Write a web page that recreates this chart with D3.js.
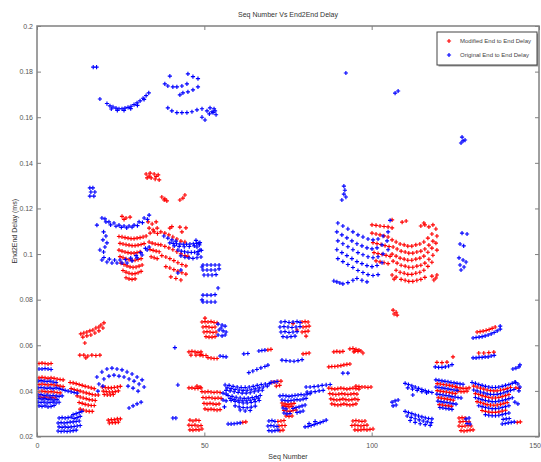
<!DOCTYPE html>
<html>
<head>
<meta charset="utf-8">
<script src="https://cdn.jsdelivr.net/npm/d3@7"></script>
<style>
  body { margin: 0; background: #fff; }
  svg { display: block; font-family: "Liberation Sans", Arial, sans-serif; }
</style>
</head>
<body>
<svg id="chart" width="541" height="462"></svg>
<script>
// Labels and ticks
const titleText = "Seq Number Vs End2End Delay";
const xLabel = "Seq Number";
const yLabel = "End2End Delay (ms)";
const seriesNames = ["Modified End to End Delay", "Original End to End Delay"];
const seriesColors = ["#ff0000", "#0000ff"];
const xTicks = [0, 50, 100, 150];
const yTicks = [0.02, 0.04, 0.06, 0.08, 0.1, 0.12, 0.14, 0.16, 0.18, 0.2];

// Modified end-to-end delay samples: [seq, delay]
const modifiedUpper = [
  [32.6,0.1351],[33.8,0.1355],[35,0.1351],[36.2,0.1347],[32.9,0.1334],[34.1,0.1334],[35.3,0.1329],[36.5,0.1325],[33.5,0.1342],[35.6,0.134],
  [37.3,0.125],[38.2,0.1242],[38.8,0.1233],[42.7,0.1237],[44.2,0.1259],[38,0.1237],[43.6,0.1245],
  [25.4,0.1165],[26.6,0.1158],[27.8,0.1162],[26,0.1152],
  [33.2,0.1141],[34.4,0.1132],[35.6,0.1141],[33.5,0.1114],[34.7,0.1106],[35.9,0.1114],[33.8,0.1092],[35,0.1097],[36,0.109],
  [24.5,0.1077],[25.4,0.1075],[26.3,0.1072],[27.2,0.107],[28.1,0.1068],[29,0.1068],[29.9,0.107],[30.8,0.1072],[31.7,0.1075],[32.6,0.1079],
  [24.8,0.1047],[25.7,0.1044],[26.6,0.1041],[27.5,0.1039],[28.4,0.1037],[29.3,0.1037],[30.2,0.1039],[31.1,0.1042],[32,0.1046],
  [24.5,0.1017],[25.4,0.1013],[26.3,0.1009],[27.2,0.1006],[28.1,0.1004],[29,0.1004],[29.9,0.1006],[30.8,0.101],
  [24.8,0.0989],[25.7,0.0984],[26.6,0.0979],[27.5,0.0975],[28.4,0.0973],[29.3,0.0973],[30.2,0.0976],[31.1,0.098],
  [25.1,0.096],[26,0.0954],[26.9,0.0948],[27.8,0.0944],[28.7,0.0942],[29.6,0.0943],[30.5,0.0947],[31.4,0.0952],
  [25.7,0.0928],[26.6,0.0921],[27.5,0.0916],[28.4,0.0913],[29.3,0.0914],[30.2,0.0918],[31.1,0.0924],
  [26.6,0.0896],[27.5,0.0891],[28.4,0.0889],[29.3,0.0891],
  [33.5,0.1053],[34.4,0.1048],[35.3,0.1044],[36.2,0.1042],[33.8,0.102],[34.7,0.1016],[35.6,0.1013],[36.5,0.101],[34.1,0.0988],[35,0.0984],[35.9,0.098],
  [37,0.1097],[38.2,0.1092],[39.4,0.1084],[40.6,0.1075],[41.8,0.1066],[43,0.1057],[44.2,0.1053],
  [37,0.104],[38.2,0.1034],[39.4,0.1027],[40.6,0.1019],[41.8,0.101],[43,0.1001],[44.2,0.0993],[45.1,0.099],
  [37.3,0.0993],[38.5,0.0987],[39.7,0.098],[40.9,0.0971],[42.1,0.0962],[43.3,0.0954],[44.5,0.0948],
  [38.5,0.0945],[39.7,0.0939],[40.9,0.0932],[42.1,0.0925],[43.3,0.0918],[44.5,0.0912],
  [40,0.09],[41.5,0.0893],[43,0.0886],
  [39.7,0.1114],[42.7,0.1118],[40.3,0.112],[44.5,0.1115],[43.3,0.1097]
];

const modifiedMiddle = [
  [100.1,0.1128],[101.3,0.1126],[102.5,0.1123],[103.7,0.1121],[104.9,0.1119],[106.1,0.1115],
  [100.1,0.1092],[101.3,0.1088],[102.5,0.1084],[103.7,0.108],[104.9,0.1075],
  [100.4,0.105],[101.6,0.1046],[102.8,0.1042],[104,0.1037],[105.2,0.1033],
  [100.7,0.1006],[101.9,0.1002],[103.1,0.0998],[104.3,0.0994],[105.5,0.099],
  [101.3,0.097],[102.5,0.0966],[103.7,0.0962],[104.9,0.0958],
  [106.1,0.1062],[107.3,0.1053],[108.5,0.1044],[109.7,0.104],[110.8,0.1035],[112,0.1035],[113.2,0.104],[114.4,0.1044],[115.6,0.1053],[116.8,0.107],[118,0.1088],[119.2,0.111],
  [106.4,0.1031],[107.6,0.1022],[108.8,0.1013],[110,0.1009],[111.1,0.1004],[112.3,0.1004],[113.5,0.1009],[114.7,0.1013],[115.9,0.1022],[117.1,0.1039],[118.3,0.1057],[119.5,0.1079],
  [106.1,0.1],[107.3,0.0991],[108.5,0.0982],[109.7,0.0978],[110.8,0.0973],[112,0.0973],[113.2,0.0978],[114.4,0.0982],[115.6,0.0991],[116.8,0.1008],[118,0.1026],[119.2,0.1048],
  [106.4,0.0969],[107.6,0.096],[108.8,0.0951],[110,0.0947],[111.1,0.0942],[112.3,0.0942],[113.5,0.0947],[114.7,0.0951],[115.9,0.096],[117.1,0.0977],[118.3,0.0995],[119.5,0.1017],
  [107.3,0.0929],[108.5,0.092],[109.7,0.0916],[110.8,0.0911],[112,0.0911],[113.2,0.0916],[114.4,0.092],[115.6,0.0929],[116.8,0.0946],[118,0.0964],
  [108.8,0.0889],[110,0.0885],[111.1,0.088],[112.3,0.088],[113.5,0.0885],[114.7,0.0889],[115.9,0.0898],
  [114.7,0.1123],[115.9,0.1128],[117.1,0.1119],[118.3,0.1128],
  [109.1,0.114],[110.3,0.1145],[115.6,0.1136],[106.1,0.115],
  [106.1,0.0908],[107.3,0.0899],[106.7,0.089],[118,0.0903],[119.2,0.0895],[118.6,0.0886],[119.5,0.0908],
  [106.4,0.0754],[107.3,0.0745],[106.7,0.0737],[107.6,0.0732],
  [50.2,0.0719]
];

const modifiedLower = [
  [0.6,0.052],[1.5,0.0522],[2.4,0.052],[3.3,0.0518],[4.2,0.052],
  [0.6,0.0457],[1.5,0.0459],[2.4,0.0457],[3.3,0.0455],[4.2,0.0457],[5.1,0.0455],[6,0.0452],[6.9,0.045],[7.8,0.0448],
  [0.6,0.0428],[1.5,0.043],[2.4,0.0428],[3.3,0.0426],[4.2,0.0428],[5.1,0.0426],[6,0.0424],[6.9,0.0421],[7.8,0.0419],
  [0.6,0.0397],[1.5,0.0399],[2.4,0.0397],[3.3,0.0395],[4.2,0.0397],[5.1,0.0395],[6,0.0393],[6.9,0.0391],
  [0.9,0.0373],[1.8,0.0371],[2.7,0.0373],[3.6,0.0369],[4.5,0.0371],[5.4,0.0369],
  [13.1,0.065],[14,0.0654],[14.9,0.0658],[15.8,0.0663],[16.7,0.0667],[17.6,0.0676],[18.5,0.068],[19.1,0.0689],[20,0.0698],
  [13.7,0.0636],[14.9,0.0641],[16.1,0.0645],[17.3,0.0654],[18.5,0.0663],[19.7,0.0676],
  [14.3,0.061],
  [12.8,0.0557],[14,0.0557],[15.2,0.0553],[16.4,0.0557],[17.6,0.0555],[18.8,0.0557],[14.6,0.0545],
  [9.9,0.0437],[10.8,0.0435],[11.7,0.0432],[12.6,0.0428],[13.5,0.0424],[14.4,0.042],[15.3,0.0417],[16.2,0.0413],[17.1,0.041],
  [10.2,0.041],[11.1,0.0406],[12,0.0402],[12.9,0.0399],[13.8,0.0395],[14.7,0.0391],[15.6,0.0388],[16.5,0.0384],[17.4,0.0382],[18.3,0.0382],
  [12,0.0378],[12.9,0.0373],[13.8,0.0369],[14.7,0.0366],[15.6,0.0362],[16.5,0.036],[17.4,0.0358],
  [12.6,0.0349],[13.5,0.0345],[14.4,0.0341],[15.3,0.0338],[16.2,0.0336],[17.1,0.0336],
  [12.9,0.032],[13.8,0.0316],[14.7,0.0312],[15.6,0.031],[16.5,0.031],
  [19.5,0.0417],[20.4,0.0415],[21.3,0.0413],[22.2,0.0413],[23.1,0.0415],[24,0.0417],[24.9,0.042],
  [19.8,0.0399],[20.7,0.0397],[21.6,0.0395],[22.5,0.0395],[23.4,0.0397],[24.3,0.04],
  [20.1,0.0384],[21,0.0382],[21.9,0.0382],[22.8,0.0384],
  [21.3,0.0272],[22.2,0.0274],[23.1,0.0274],[24,0.0277],[24.9,0.0277],[21.6,0.0259],[22.5,0.0261],[23.4,0.0261],[24.3,0.0263],
  [45.4,0.0571],[46.3,0.0573],[47.2,0.0571],[48.1,0.0569],[49,0.0571],[46,0.0557],[47.5,0.0557],[49,0.0559],
  [45.4,0.0413],[46.3,0.0413],[47.2,0.0411],[48.1,0.0411],[49,0.0413],[47.8,0.0421],[48.7,0.0417],
  [45.7,0.0272],[46.6,0.0268],[47.5,0.0272],[48.4,0.027],[45.4,0.025],[46.3,0.0248],[47.2,0.025],[48.1,0.0246],[49,0.0248],
  [45.7,0.0229],[46.6,0.0228],[47.5,0.023],[48.4,0.0229],[49.3,0.0233],
  [49.3,0.0702],[50.2,0.0704],[51.1,0.0702],[52,0.0704],[52.9,0.07],[53.8,0.0698],
  [49.6,0.068],[50.5,0.0682],[51.4,0.068],[52.3,0.0678],[53.2,0.068],
  [49.9,0.0658],[50.8,0.066],[51.7,0.0658],[52.6,0.0656],[53.5,0.0658],
  [50.5,0.0638],[51.4,0.0636],[52.3,0.0636],[53.2,0.0638],
  [48.7,0.0557],[49.6,0.0555],[50.5,0.0555],[51.1,0.0546],[52,0.0544],[52.9,0.0542],[53.8,0.0542],
  [49.3,0.0397],[50.2,0.0395],[51.1,0.0397],[52,0.0395],[52.9,0.0393],[53.8,0.0395],[54.7,0.0393],
  [49.6,0.0371],[50.5,0.0369],[51.4,0.0371],[52.3,0.0369],[53.2,0.0367],[54.1,0.0369],[55,0.0367],
  [49.9,0.0345],[50.8,0.0343],[51.7,0.0345],[52.6,0.0343],[53.5,0.0341],[54.4,0.0343],
  [50.2,0.0321],[51.1,0.0318],[52,0.032],[52.9,0.0318],[53.8,0.0316],[54.7,0.0318],
  [61.5,0.0262],[62.4,0.0264],
  [69,0.058],[69.9,0.0582],
  [70.2,0.0437],[71.1,0.0439],[72,0.0441],[72.9,0.0443],[71.5,0.0421],[72.5,0.0424],
  [72,0.0266],[72.9,0.0268],[73.8,0.027],[72.3,0.0246],[73.2,0.0248],[74.1,0.0248],[72.6,0.0226],[73.5,0.0228],
  [79.2,0.0702],[80.1,0.0704],[81,0.0702],[79.5,0.068],[80.4,0.0682],[81.3,0.0684],[79.2,0.0658],[80.1,0.066],[81,0.0662],[80.4,0.064],[76.5,0.0695],[77.7,0.0667],
  [79.5,0.0562],[80.4,0.0564],[81.3,0.0566],
  [73.2,0.0347],[74.1,0.0343],[75,0.0341],[75.9,0.0343],[76.8,0.0345],
  [73.5,0.0334],[74.4,0.0332],[75.3,0.033],[76.2,0.0332],
  [73.8,0.0314],[74.7,0.0312],[75.6,0.031],[76.5,0.0314],[77.4,0.0316],
  [74.4,0.029],[75.3,0.0288],[76.2,0.029],
  [88.7,0.0571],[89.6,0.0573],[90.5,0.0571],[91.4,0.0573],
  [93.5,0.0584],[94.4,0.0586],[95.3,0.0582],[96.2,0.0579],[94.7,0.0571],
  [87.2,0.0505],[88.1,0.0507],[89,0.0507],[89.9,0.0509],[90.8,0.0511],[91.7,0.0514],[92.6,0.0516],[93.5,0.0518],
  [87.2,0.0412],[88.1,0.041],[89,0.0408],[89.9,0.041],[90.8,0.0412],[91.7,0.041],[92.6,0.0408],[93.5,0.041],[94.4,0.0412],[95.3,0.041],[96.2,0.0408],
  [87.5,0.0388],[88.4,0.0386],[89.3,0.0384],[90.2,0.0386],[91.1,0.0388],[92,0.0386],[92.9,0.0384],[93.8,0.0386],[94.7,0.0388],[95.6,0.0386],
  [87.8,0.0365],[88.7,0.0362],[89.6,0.036],[90.5,0.0362],[91.4,0.0365],[92.3,0.0362],[93.2,0.036],[94.1,0.0362],[95,0.0365],[95.9,0.0362],
  [88.1,0.0343],[89,0.034],[89.9,0.0338],[90.8,0.034],[91.7,0.0343],[92.6,0.034],[93.5,0.0338],[94.4,0.034],[95.3,0.0343],
  [95,0.0575],[95.9,0.0573],[96.8,0.0575],[97.4,0.0566],
  [95.3,0.0421],[96.2,0.0419],[97.1,0.0417],[98,0.0417],[98.9,0.0415],[99.8,0.0417],
  [94.4,0.0268],[95.3,0.027],[96.2,0.0268],[97.1,0.0266],[98,0.0268],
  [94.1,0.0248],[95,0.025],[95.9,0.0248],[96.8,0.0246],[97.7,0.0248],[98.6,0.025],
  [95,0.0229],[95.9,0.0228],[96.8,0.0229],[97.7,0.0231],[98.6,0.0229],[99.5,0.0231],[100.4,0.0233],
  [119.6,0.0432],[120.5,0.043],[121.4,0.0428],[122.3,0.0426],[123.2,0.0424],[124.1,0.0421],[125,0.0419],
  [119.6,0.0401],[120.5,0.0399],[121.4,0.0397],[122.3,0.0395],[123.2,0.0393],[124.1,0.039],[125,0.0388],
  [119.9,0.037],[120.8,0.0368],[121.7,0.0366],[122.6,0.0364],[123.5,0.0362],[124.4,0.0359],
  [120.2,0.034],[121.1,0.0338],[122,0.0336],[122.9,0.0334],[123.8,0.0332],
  [125.5,0.0415],[126.4,0.0413],[127.3,0.0411],[128.2,0.0411],[129.1,0.0413],[125.8,0.0399],[126.7,0.0397],[127.6,0.0397],[128.5,0.0399],
  [119.5,0.0525],[121,0.0524],[122.5,0.0526],[124.3,0.0549],
  [126.1,0.0281],[127,0.0283],[127.9,0.0281],[126.4,0.0264],[127.3,0.0266],[128.2,0.0266],[129.1,0.0264],
  [126.1,0.0246],[127,0.0244],[127.9,0.0246],[128.8,0.0248],[129.7,0.0246],
  [126.7,0.0226],[127.6,0.0224],[128.5,0.0226],[129.4,0.0228],[130.3,0.0229],
  [130.5,0.0421],[131.5,0.0417],[132.5,0.0412],[133.5,0.0408],[134.5,0.0404],[135.5,0.0401],[136.5,0.04],[137.5,0.04],[138.5,0.0403],[139.5,0.0406],[140.5,0.041],[141.5,0.0415],
  [131,0.0388],[132,0.0384],[133,0.0379],[134,0.0375],[135,0.0371],[136,0.0369],[137,0.0369],[138,0.0371],[139,0.0375],[140,0.0379],[141,0.0384],
  [131.5,0.0353],[132.5,0.0349],[133.5,0.0344],[134.5,0.034],[135.5,0.0338],[136.5,0.0337],[137.5,0.0338],[138.5,0.0341],[139.5,0.0345],[140.5,0.0349],
  [133,0.0314],[134,0.031],[135,0.0307],[136,0.0306],[137,0.0306],[138,0.0308],[139,0.0311],[140,0.0315],
  [131.5,0.0658],[132.4,0.066],[133.3,0.0662],[134.2,0.0665],[135.1,0.0669],[136,0.0674],[136.9,0.068],
  [132,0.0566],[133.5,0.0566],[135,0.0568],[136.5,0.057],
  [143.5,0.0262],[144.4,0.0264],[143.1,0.0413],[144,0.0411]
];

// Original end-to-end delay samples: [seq, delay]
const originalHigh = [
  [16.8,0.182],[17.8,0.182],[18.8,0.168],
  [20.9,0.166],[21.8,0.165],[22.7,0.1645],[23.6,0.164],[24.5,0.1637],[25.4,0.1637],[26.3,0.164],[27.2,0.1643],[28.1,0.1648],[29,0.1655],[29.9,0.1663],[30.8,0.1672],[31.7,0.1683],[32.6,0.1695],[33.4,0.1707],
  [22.2,0.1636],[24,0.163],[26,0.163],[28,0.1638],[30,0.1652],[32,0.1678],
  [39.7,0.178],[45.1,0.179],[46.6,0.1778],[48.1,0.1769],
  [38.2,0.1746],[39.1,0.1737],[40.6,0.1733],[41.8,0.1733],[43.3,0.1737],[44.8,0.1746],
  [42.7,0.1698],[43.6,0.1707],[45.1,0.1711],[46.6,0.172],[48.1,0.1733],
  [39.1,0.1641],[40.3,0.1628],[41.8,0.162],[43.3,0.162],[44.8,0.162],[46.3,0.1624],[47.8,0.1632],[49.3,0.1637],[50.8,0.1628],[52.3,0.1624],[53.2,0.1628],
  [49.3,0.16],[50.2,0.1588],[51.7,0.1641],[52.6,0.162],[53.5,0.1611],[51.5,0.1615],[52.9,0.1637],
  [92.3,0.1794],[107,0.1706],[107.9,0.1715],
  [126.7,0.1487],[127.3,0.1496],[127.9,0.15],[127,0.1513]
];

const originalMid = [
  [15.8,0.129],[16.7,0.129],[16.1,0.1272],[17.3,0.1272],[15.8,0.1254],[17,0.1254],
  [91.7,0.1298],[92,0.128],[91.7,0.1263],[92.3,0.125],[91.1,0.1237],
  [17.9,0.1127],[19.4,0.1158],[20.3,0.1154],[21.5,0.1141],[23,0.1136],[24.5,0.1127],[26,0.1123],[27.5,0.1123],[29,0.1127],[30.5,0.1141],[32,0.1158],[33.5,0.1171],
  [20.6,0.1141],[22,0.1128],[23.6,0.1122],[25.2,0.1117],[26.8,0.1115],[28.4,0.1118],[30,0.1125],[31.5,0.1138],[33,0.1152],
  [19.9,0.1097],[20.6,0.1079],[19.7,0.1062],[20.9,0.1049],[20.3,0.1031],[19.9,0.1009],[18.8,0.1018],
  [19.4,0.0974],[20.9,0.0965],[22.4,0.0961],[23.9,0.0961],[25.4,0.0961],[26.9,0.0961],[28.4,0.097],[29.9,0.0983],[31.4,0.0996],[32.9,0.1018],[33.5,0.1031],
  [20,0.0985],[21.6,0.0978],[23.2,0.0974],[24.8,0.0974],[26.4,0.0976],[28,0.0982],[29.6,0.0993],[31,0.1006],[32.4,0.1025],
  [37.9,0.1079],[39.1,0.107],[40.3,0.1062],[41.5,0.1057],
  [39.7,0.1049],[40.7,0.1047],[41.7,0.1045],[42.7,0.1044],[43.7,0.1043],[44.7,0.1043],[45.7,0.1044],[46.7,0.1045],[47.7,0.1047],[48.7,0.105],
  [41,0.1036],[42.5,0.1034],[44,0.1032],[45.5,0.1033],[47,0.1036],[48.5,0.104],
  [42.1,0.1018],[43.1,0.1013],[44.1,0.101],[45.1,0.1008],[46.1,0.1007],[47.1,0.1008],[48.1,0.1011],[49.1,0.1016],
  [43,0.0992],[44.2,0.0986],[45.4,0.0983],[46.6,0.0981],[47.8,0.0984],
  [42.1,0.0917],[43,0.093],
  [47.5,0.106],[48.4,0.1049],[47.8,0.1031],[48.7,0.1018],[48.1,0.1],[49,0.0987],
  [49.3,0.0943],[49.3,0.0799],
  [49.6,0.0952],[50.8,0.0952],[52,0.0952],[53.2,0.0952],[54.4,0.0952],
  [49.6,0.093],[50.8,0.093],[52,0.093],[53.2,0.093],[54.4,0.0935],
  [49.9,0.0908],[51.1,0.0908],[52.3,0.0908],[53.5,0.091],
  [49.6,0.082],[50.8,0.082],[52,0.082],[53.2,0.0822],[49.6,0.079],[50.8,0.079],[52,0.079],[53.2,0.079],[54.1,0.0851],
  [89.9,0.1136],[91.4,0.1123],[92.9,0.111],[94.4,0.1097],[95.9,0.1084],[97.4,0.1075],[98.9,0.1066],[100.4,0.1062],[101.9,0.1066],[103.4,0.1079],[104.9,0.1097],
  [89.6,0.1097],[91.1,0.1084],[92.6,0.1071],[94.1,0.1058],[95.6,0.1045],[97.1,0.1036],[98.6,0.1027],[100.1,0.1023],[101.6,0.1027],[103.1,0.104],[104.6,0.1058],
  [89.9,0.1058],[91.4,0.1045],[92.9,0.1032],[94.4,0.1019],[95.9,0.1006],[97.4,0.0997],[98.9,0.0988],[100.4,0.0984],[101.9,0.0988],[103.4,0.1001],[104.9,0.1019],
  [89.6,0.1019],[91.1,0.1006],[92.6,0.0993],[94.1,0.098],[95.6,0.0967],[97.1,0.0958],[98.6,0.0949],[100.1,0.0945],[101.6,0.095],[103.1,0.0962],
  [89.9,0.098],[91.4,0.0967],[92.9,0.0954],[94.4,0.0941],[95.9,0.0928],[97.4,0.0919],[98.9,0.091],[100.4,0.0906],[101.9,0.091],
  [88.7,0.0882],[89.6,0.0878],[90.5,0.0873],[91.4,0.0869],[92.9,0.0875],[94.4,0.0885],[95.6,0.0893],[97.1,0.0885],[98.6,0.0878],
  [105.5,0.1148],[127,0.1092],[128.5,0.1088],[126.4,0.1044],[127.5,0.1036],
  [126.1,0.0983],[127.3,0.0974],[128.2,0.0965],[126.4,0.0952],[127.6,0.0943],[126.7,0.093]
];

const originalLow = [
  [0.6,0.0496],[1.5,0.0496],[2.4,0.0498],[3.3,0.0496],[4.2,0.0494],
  [0.3,0.0443],[1.2,0.0445],[2.1,0.0443],[3,0.0441],[3.9,0.0443],[4.8,0.0439],[5.7,0.0437],
  [0.3,0.0413],[1.2,0.0415],[2.1,0.0413],[3,0.0411],[3.9,0.0413],[4.8,0.041],[5.7,0.0413],[6.6,0.041],[7.5,0.0406],[8.4,0.0402],[9.3,0.0399],[10.2,0.0396],[11.1,0.0393],[12,0.039],
  [0.3,0.0382],[1.2,0.0384],[2.1,0.038],[3,0.0382],[3.9,0.0378],[4.8,0.038],[5.7,0.0378],[6.6,0.0376],[7.5,0.0378],
  [0.6,0.0367],[1.5,0.0364],[2.4,0.0366],[3.3,0.0362],[4.2,0.0364],[5.1,0.036],[6,0.0362],
  [0.3,0.0351],[1.2,0.0349],[2.1,0.0351],[3,0.0347],[3.9,0.0349],[4.8,0.0351],[5.7,0.0347],[6.6,0.035],
  [0.6,0.0334],[1.5,0.0332],[2.4,0.0334],[3.3,0.033],[4.2,0.0332],[5.1,0.0336],
  [6.6,0.0281],[7.5,0.0283],[8.4,0.0281],[9.3,0.0283],[10.2,0.0285],
  [6.3,0.0259],[7.2,0.0261],[8.1,0.0259],[9,0.0261],[9.9,0.0263],[10.8,0.0264],[11.7,0.0266],[12.6,0.0268],
  [6.6,0.0242],[7.5,0.024],[8.4,0.0242],[9.3,0.024],[10.2,0.0242],[11.1,0.0244],[12,0.0246],[12.9,0.0248],
  [6.3,0.0224],[7.2,0.0222],[8.1,0.0224],[9,0.0222],[9.9,0.0224],[10.8,0.0226],[11.7,0.0228],
  [10.8,0.0296],[11.7,0.03],[12.6,0.0305],[13.4,0.031],[11.1,0.0279],[12,0.0283],[12.9,0.0288],
  [17.9,0.0461],[19.4,0.0483],[20.9,0.0496],[22.4,0.05],[23.9,0.0496],[25.4,0.0492],[26.9,0.0483],[28.4,0.0474],[29.9,0.0461],[31.4,0.0448],
  [18.5,0.043],[20,0.0452],[21.5,0.0465],[23,0.0469],[24.5,0.0465],[26,0.0461],[27.5,0.0452],[29,0.0443],[30.5,0.043],[32,0.0417],
  [18.2,0.0399],[19.7,0.0421],[27.2,0.0421],[28.7,0.0412],[30.2,0.0399],
  [27.5,0.0325],[28.7,0.0334],[29.9,0.0343],[31.1,0.0351],
  [41.2,0.059],[42.1,0.0426],[40.6,0.0281],[41.5,0.0281],
  [54.1,0.0693],[55.3,0.0689],[56.2,0.0684],[54.4,0.0667],[55.6,0.0663],[56.5,0.0658],[54.1,0.0645],[55.3,0.0641],[56.2,0.0645],[55,0.0676],
  [54.7,0.0553],[55.6,0.0551],[56.5,0.0549],
  [55.6,0.039],[56.5,0.0386],[55.6,0.036],[56.5,0.0356],[56,0.033],
  [57.1,0.0255],[58,0.0255],[58.9,0.0256],[59.8,0.0258],[60.7,0.026],
  [61.8,0.0562],[63,0.0564],
  [66.3,0.0575],[67.2,0.0577],[68.1,0.0579],
  [63.3,0.048],[64.5,0.0487],[65.7,0.0494],[66.9,0.0501],[68.1,0.0507],[69,0.0513],
  [56.2,0.0426],[57.4,0.0424],[58.6,0.042],[59.8,0.0417],[61,0.0415],[62.2,0.0415],[63.4,0.0417],[64.6,0.042],[65.8,0.0424],[67,0.0428],[68.2,0.043],[69.4,0.0432],
  [56.8,0.0413],[58,0.041],[59.2,0.0406],[60.4,0.0404],[61.6,0.0402],[62.8,0.0403],[64,0.0405],[65.2,0.0409],[66.4,0.0413],[67.6,0.0417],[68.8,0.0421],
  [56.5,0.0402],[57.7,0.04],[58.9,0.0396],[60.1,0.0393],[61.3,0.039],[62.5,0.039],[63.7,0.0392],[64.9,0.0396],[66.1,0.04],[67.3,0.0403],
  [57.1,0.038],[58.3,0.0376],[59.5,0.0372],[60.7,0.0369],[61.9,0.0367],[63.1,0.0368],[64.3,0.0371],[65.5,0.0375],[66.7,0.038],
  [57.7,0.0367],[58.9,0.0363],[60.1,0.0359],[61.3,0.0357],[62.5,0.0357],[63.7,0.0359],[64.9,0.0363],[66.1,0.0368],
  [58,0.0358],[59.2,0.0354],[60.4,0.035],[61.6,0.0347],[62.8,0.0347],[64,0.0349],[65.2,0.0353],[66.4,0.0358],
  [59.2,0.0334],[60.4,0.033],[61.6,0.0327],[62.8,0.0326],[64,0.0329],[65.2,0.0333],
  [60.7,0.0316],[62.2,0.0312],[63.7,0.0314],
  [69.9,0.0437],[70.8,0.0439],[71.7,0.0441],
  [69.3,0.0268],[70.2,0.027],[71.1,0.0266],[69,0.0246],[69.9,0.0248],[70.8,0.0246],[71.7,0.0244],[69.3,0.0226],[70.2,0.0224],[71.1,0.0226],[72,0.0228],
  [72.9,0.0702],[74.1,0.0704],[75.3,0.07],[76.5,0.0702],[77.7,0.0704],[78.6,0.07],
  [72.6,0.068],[73.8,0.0682],[75,0.068],[76.2,0.0678],[77.4,0.068],[78.6,0.0682],
  [72.9,0.0658],[74.1,0.066],[75.3,0.0656],[76.5,0.0658],[77.7,0.066],
  [73.5,0.0638],[74.7,0.0636],[75.9,0.0638],[77.1,0.064],
  [73.2,0.0535],[74.4,0.0533],[75.6,0.0531],[76.8,0.053],[78,0.0533],[79.2,0.0537],
  [72.6,0.0378],[73.5,0.038],[74.4,0.0378],[75.3,0.0376],[76.2,0.0378],[77.1,0.038],[78,0.0382],[78.9,0.0384],[79.8,0.0382],[80.7,0.0386],[81.6,0.0388],
  [73.2,0.036],[74.1,0.0358],[75,0.0356],[75.9,0.0358],[76.8,0.036],[77.7,0.0362],[78.6,0.036],[79.5,0.0364],[80.4,0.0367],
  [73.5,0.0325],[74.4,0.0321],[76.5,0.0323],[77.4,0.0327],[78.3,0.033],[79.2,0.0334],[80.1,0.0338],
  [73.8,0.0303],[74.7,0.0299],[75.6,0.0301],[77.7,0.0305],[78.6,0.0308],[79.5,0.0312],
  [80.1,0.0242],[81,0.0244],[81.9,0.0248],[82.8,0.0252],[83.7,0.0257],[84.6,0.0261],[85.5,0.0266],[86.4,0.0272],[81.3,0.0257],[83.1,0.0266],
  [80.4,0.0417],[81.6,0.0417],[82.8,0.0419],[84,0.0421],[85.2,0.0424],[86.4,0.0426],[87.6,0.0428],
  [80.7,0.0395],[81.9,0.0395],[83.1,0.0397],[84.3,0.04],[85.5,0.0402],
  [91.4,0.0478],[92.9,0.0478],
  [110,0.0433],[111,0.0428],[112,0.0422],[113,0.0417],[114,0.0411],[115,0.0406],[116,0.0401],[117,0.0397],[118,0.0393],
  [110.8,0.0413],[112.2,0.0408],[113.6,0.0402],[115,0.0397],[116.4,0.0391],[112.3,0.0382],
  [106.1,0.0351],[107,0.0356],[107.9,0.036],[106.4,0.0334],[107.3,0.0338],
  [110,0.031],[111,0.0305],[112,0.03],[113,0.0295],[114,0.029],[115,0.0286],[116,0.0282],[117,0.0279],[118,0.0277],
  [110.6,0.029],[111.8,0.0284],[113,0.0278],[114.2,0.0273],[115.4,0.0268],[116.6,0.0264],[117.8,0.0261],
  [111.5,0.027],[113,0.0262],[114.5,0.0256],[116,0.0252],[117.5,0.0249],
  [119,0.0505],[120,0.0503],[121,0.0503],[122,0.0505],[123,0.0509],[124,0.0515],
  [119.2,0.0448],[120.1,0.0446],[121,0.0444],[121.9,0.0442],[122.8,0.044],[123.7,0.0437],[124.6,0.0435],[125.5,0.0433],[126.4,0.0431],[127.3,0.0429],
  [119.2,0.0417],[120.1,0.0415],[121,0.0413],[121.9,0.0411],[122.8,0.0409],[123.7,0.0406],[124.6,0.0404],[125.5,0.0402],
  [119.5,0.0386],[120.4,0.0384],[121.3,0.0382],[122.2,0.038],[123.1,0.0378],[124,0.0375],[124.9,0.0373],[125.8,0.0371],[126.7,0.0369],
  [119.8,0.0355],[120.7,0.0353],[121.6,0.0351],[122.5,0.0349],[123.4,0.0347],[124.3,0.0344],[125.2,0.0342],
  [120.4,0.0327],[121.3,0.0325],[122.2,0.0323],[123.1,0.0321],[124,0.0319],
  [128.2,0.0277],[129.1,0.0281],[128.5,0.0257],[129.4,0.0255],
  [130.3,0.0632],[131.2,0.0634],[132.1,0.0636],[133,0.0638],[133.9,0.0641],[134.8,0.0645],[135.7,0.065],[136.6,0.0656],[137.5,0.0663],[138.4,0.0671],[138.4,0.0684],
  [130.3,0.0545],[131.2,0.0545],[132.1,0.0547],[133,0.0547],[133.9,0.0549],[134.8,0.0549],[135.7,0.0553],[136.6,0.0556],
  [142.2,0.0496],[143.1,0.05],[144,0.0505],[144.3,0.0514],
  [130,0.0437],[131,0.0433],[132,0.0428],[133,0.0424],[134,0.042],[135,0.0417],[136,0.0415],[137,0.0415],[138,0.0417],[139,0.042],[140,0.0424],[141,0.0428],[142,0.0433],[143,0.0437],
  [130.5,0.0404],[131.5,0.04],[132.5,0.0395],[133.5,0.0391],[134.5,0.0387],[135.5,0.0385],[136.5,0.0384],[137.5,0.0385],[138.5,0.0388],[139.5,0.0392],[140.5,0.0397],[141.5,0.0402],[142.5,0.0406],
  [131,0.0371],[132,0.0366],[133,0.0362],[134,0.0358],[135,0.0355],[136,0.0353],[137,0.0353],[138,0.0355],[139,0.0358],[140,0.0362],[141,0.0366],[142,0.037],
  [132,0.0335],[133,0.0331],[134,0.0327],[135,0.0324],[136,0.0322],[137,0.0322],[138,0.0324],[139,0.0327],[140,0.0331],[141,0.0335],
  [134,0.0296],[135,0.0293],[136,0.0291],[137,0.0291],[138,0.0293],[139,0.0296],[140,0.03],[141,0.0303],
  [139,0.0255],[139.9,0.0257],[140.8,0.026],[141.7,0.0262],[142.6,0.0264],[139.3,0.0275],[140.2,0.0277],[141.1,0.0279],
  [142.8,0.0439],[143.7,0.043],[144.3,0.0417],[144,0.04],[142.8,0.0351],[143.7,0.0343]
];

const modified = [].concat(modifiedUpper, modifiedMiddle, modifiedLower);
const original = [].concat(originalHigh, originalMid, originalLow);

const svg = d3.select("#chart");
const plotLeft = 37, plotRight = 539, plotTop = 26, plotBottom = 436.5;

const x = d3.scaleLinear().domain([0, 150]).range([plotLeft, plotRight]);
const y = d3.scaleLinear().domain([0.02, 0.2]).range([plotBottom, plotTop]);

svg.append("rect").attr("width", 541).attr("height", 462).attr("fill", "#fff");

svg.append("defs").append("clipPath").attr("id", "plotClip")
  .append("rect")
  .attr("x", plotLeft).attr("y", plotTop)
  .attr("width", plotRight - plotLeft).attr("height", plotBottom - plotTop);

// '+' marker
const plusPath = "M-2.1,0H2.1M0,-2.1V2.1";

function drawSeries(data, color) {
  svg.append("g")
    .attr("clip-path", "url(#plotClip)")
    .selectAll("path")
    .data(data)
    .join("path")
    .attr("d", plusPath)
    .attr("transform", d => `translate(${x(d[0]).toFixed(2)},${y(d[1]).toFixed(2)})`)
    .attr("fill", "none")
    .attr("stroke", color)
    .attr("stroke-width", 1.15);
}
drawSeries(modified, seriesColors[0]);
drawSeries(original, seriesColors[1]);

// Axes with inward ticks (box style)
const axisColor = "#808080";
const labelColor = "#555";
const fmtY = d => String(+d.toFixed(2));

function styleAxis(g) {
  g.select(".domain").remove();
  g.selectAll(".tick line").attr("stroke", axisColor).attr("stroke-width", 1);
  g.selectAll(".tick text").attr("fill", labelColor).style("font-size", "7px");
}

const xAxisG = svg.append("g").attr("transform", `translate(0,${plotBottom})`)
  .call(d3.axisBottom(x).tickValues(xTicks).tickSizeInner(-4).tickSizeOuter(0).tickPadding(7))
  .call(styleAxis);
// keep the last label inside the page edge
xAxisG.selectAll(".tick text").filter(d => d === xTicks[xTicks.length - 1])
  .attr("text-anchor", "end").attr("dx", 1.5);

svg.append("g").attr("transform", `translate(0,${plotTop})`)
  .call(d3.axisTop(x).tickValues(xTicks).tickSizeInner(-4).tickSizeOuter(0).tickFormat(() => ""))
  .call(styleAxis);
svg.append("g").attr("transform", `translate(${plotLeft},0)`)
  .call(d3.axisLeft(y).tickValues(yTicks).tickSizeInner(-4).tickSizeOuter(0).tickPadding(4).tickFormat(fmtY))
  .call(styleAxis);
svg.append("g").attr("transform", `translate(${plotRight},0)`)
  .call(d3.axisRight(y).tickValues(yTicks).tickSizeInner(-4).tickSizeOuter(0).tickFormat(() => ""))
  .call(styleAxis);

svg.append("rect")
  .attr("x", plotLeft).attr("y", plotTop)
  .attr("width", plotRight - plotLeft).attr("height", plotBottom - plotTop)
  .attr("fill", "none").attr("stroke", axisColor).attr("stroke-width", 1.5);

// Title and axis labels
svg.append("text").attr("x", (plotLeft + plotRight) / 2).attr("y", 17)
  .attr("text-anchor", "middle").attr("fill", "#333").style("font-size", "7px").text(titleText);
svg.append("text").attr("x", (plotLeft + plotRight) / 2).attr("y", 459)
  .attr("text-anchor", "middle").attr("fill", "#333").style("font-size", "7px").text(xLabel);
svg.append("text").attr("transform", `translate(17,${(plotTop + plotBottom) / 2}) rotate(-90)`)
  .attr("text-anchor", "middle").attr("fill", "#333").style("font-size", "7px").text(yLabel);

// Legend
const legend = svg.append("g").attr("transform", "translate(437,32)");
legend.append("rect").attr("x", 1.5).attr("y", 1.5).attr("width", 100).attr("height", 33).attr("fill", "#999");
legend.append("rect").attr("width", 100).attr("height", 33)
  .attr("fill", "#fff").attr("stroke", "#444").attr("stroke-width", 1);
seriesNames.forEach((name, i) => {
  const row = legend.append("g").attr("transform", `translate(0,${9 + i * 14})`);
  row.append("path").attr("d", plusPath).attr("transform", "translate(12,0)")
    .attr("fill", "none").attr("stroke", seriesColors[i]).attr("stroke-width", 1.15);
  row.append("text").attr("x", 23).attr("y", 2.2).attr("fill", "#444")
    .style("font-size", "6px").text(name);
});
</script>
</body>
</html>
